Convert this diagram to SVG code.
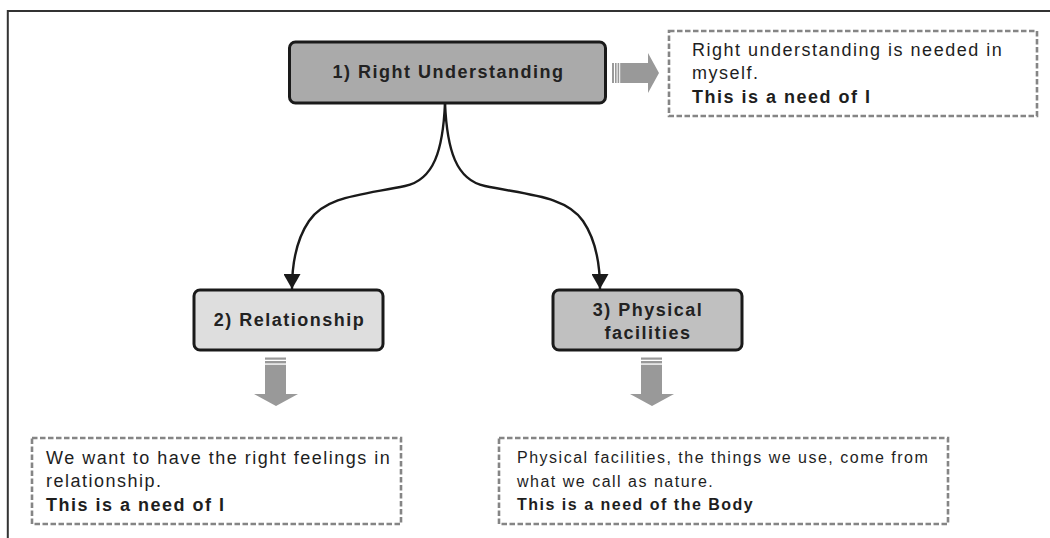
<svg xmlns="http://www.w3.org/2000/svg" width="1050" height="538" viewBox="0 0 1050 538">
<style>
  .frame { fill: none; stroke: #333333; stroke-width: 2; }
  .node { stroke: #1a1a1a; stroke-width: 3; }
  .title { font-family: "Liberation Sans", Arial, sans-serif; font-size: 18px; font-weight: bold; letter-spacing: 1.5px; fill: #222222; text-anchor: middle; }
  .note { fill: #ffffff; stroke: #858585; stroke-width: 2.6; stroke-dasharray: 5.5 2.5; }
  .txt { font-family: "Liberation Sans", Arial, sans-serif; font-size: 18px; letter-spacing: 1.5px; fill: #1e1e1e; }
  .txt16 { font-family: "Liberation Sans", Arial, sans-serif; font-size: 16px; letter-spacing: 1.5px; fill: #1e1e1e; }
  .b { font-weight: bold; }
  .block { fill: #999999; }
  .conn { fill: none; stroke: #1a1a1a; stroke-width: 2.4; }
</style>
<defs>
  <marker id="ah" viewBox="0 0 15 17" refX="15" refY="8.5" markerWidth="15" markerHeight="17" markerUnits="userSpaceOnUse" orient="auto">
    <path d="M0,0 L15,8.5 L0,17 Z" fill="#1a1a1a"/>
  </marker>
</defs>

<polyline class="frame" points="7.8,538 7.8,11 1050,11"/>

<g id="connectors">
  <path class="conn" d="M445,103 C443,150 434,180 405,186 C362,195 326,196 309,221 C296,240 292,262 292,289" marker-end="url(#ah)"/>
  <path class="conn" d="M445,103 C447,150 456,180 485,186 C528,195 566,196 583,221 C596,240 600,262 600,289" marker-end="url(#ah)"/>
  <g id="block-arrow-right">
    <rect class="block" x="612" y="63" width="2" height="20"/>
    <rect class="block" x="615" y="63" width="1.6" height="20"/>
    <rect class="block" x="617.6" y="63" width="1.6" height="20"/>
    <path class="block" d="M620.2,63 H648 V53 L659,73 L648,93 V83 H620.2 Z"/>
  </g>
  <g id="block-arrow-down-1">
    <rect class="block" x="265" y="357.5" width="21" height="2.2"/>
    <rect class="block" x="265" y="361" width="21" height="2.4"/>
    <path class="block" d="M265,364.8 H286 V394 H298 L276,406 L254,394 H265 Z"/>
  </g>
  <g id="block-arrow-down-2">
    <rect class="block" x="641" y="357.5" width="21" height="2.2"/>
    <rect class="block" x="641" y="361" width="21" height="2.4"/>
    <path class="block" d="M641,364.8 H662 V394 H674 L652,406 L630,394 H641 Z"/>
  </g>
</g>

<g id="node-right-understanding">
  <rect class="node" x="289.5" y="42" width="316" height="61" rx="6" fill="#aaaaaa"/>
  <text class="title" x="448.5" y="78">1) Right Understanding</text>
</g>

<g id="note-understanding">
  <rect class="note" x="669" y="31" width="368" height="85"/>
  <text class="txt" x="692" y="56">Right understanding is needed in</text>
  <text class="txt" x="692" y="79">myself.</text>
  <text class="txt b" x="692" y="103">This is a need of I</text>
</g>

<g id="node-relationship">
  <rect class="node" x="194" y="290" width="189" height="60" rx="6" fill="#dedede"/>
  <text class="title" x="289.5" y="326">2) Relationship</text>
</g>

<g id="node-physical">
  <rect class="node" x="553" y="290" width="189" height="60" rx="6" fill="#c0c0c0"/>
  <text class="title" x="648" y="316">3) Physical</text>
  <text class="title" x="648" y="339">facilities</text>
</g>

<g id="note-relationship">
  <rect class="note" x="32" y="438" width="369" height="86"/>
  <text class="txt" x="46" y="464">We want to have the right feelings in</text>
  <text class="txt" x="46" y="487">relationship.</text>
  <text class="txt b" x="46" y="511">This is a need of I</text>
</g>

<g id="note-physical">
  <rect class="note" x="499" y="438" width="449" height="86"/>
  <text class="txt16" x="517" y="463">Physical facilities, the things we use, come from</text>
  <text class="txt16" x="517" y="487">what we call as nature.</text>
  <text class="txt16 b" x="517" y="510">This is a need of the Body</text>
</g>
</svg>
